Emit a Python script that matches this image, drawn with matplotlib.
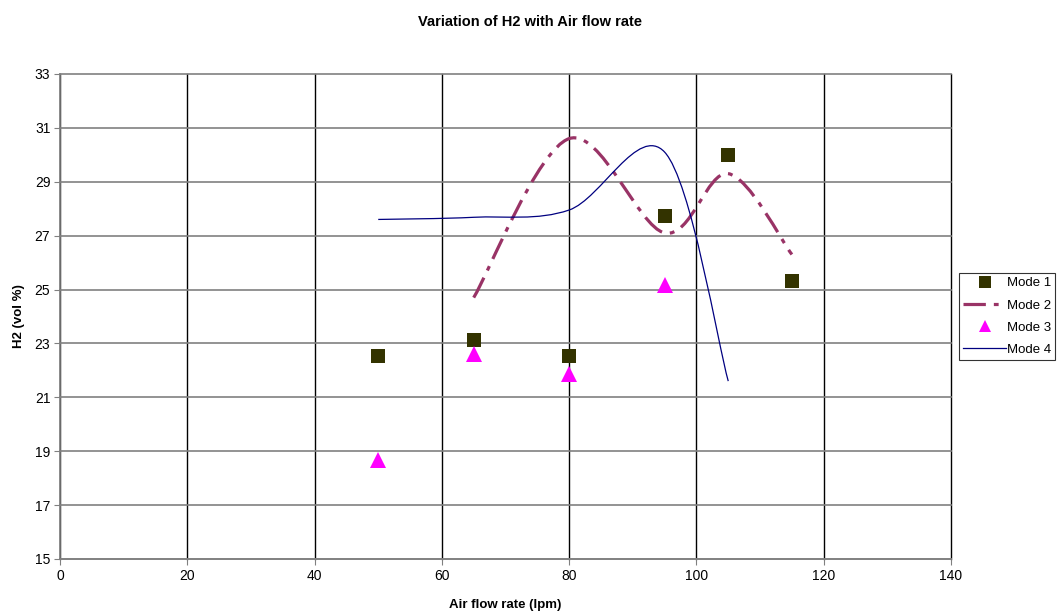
import numpy as np
import matplotlib
matplotlib.use("Agg")
import matplotlib.pyplot as plt
from matplotlib.path import Path
from matplotlib.patches import PathPatch
from matplotlib.lines import Line2D

plt.rcParams['font.family'] = ['Liberation Sans', 'DejaVu Sans']

# data
air1 = [50, 65, 80, 95, 105, 115]
h2_mode1 = [22.53, 23.13, 22.53, 27.73, 30.0, 25.32]

air2 = [65, 80, 95, 105, 115]
h2_mode2 = [24.7, 30.6, 27.1, 29.3, 26.3]

air3 = [50, 65, 80, 95]
h2_mode3 = [18.68, 22.62, 21.86, 25.16]

air4 = [50, 65, 80, 95, 105]
h2_mode4 = [27.6, 27.68, 27.95, 30.1, 21.6]

xticks = list(range(0, 141, 20))
yticks = list(range(15, 34, 2))


def smooth_path(xs, ys):
    # excel style smoothed line: cubic bezier through each point
    pts = np.column_stack([xs, ys]).astype(float)
    ext = np.vstack([pts[0], pts, pts[-1]])
    verts = [pts[0]]
    codes = [Path.MOVETO]
    for i in range(len(pts) - 1):
        p0, p1, p2, p3 = ext[i], ext[i + 1], ext[i + 2], ext[i + 3]
        verts += [p1 + (p2 - p0) / 6, p2 - (p3 - p1) / 6, p2]
        codes += [Path.CURVE4] * 3
    return Path(verts, codes)


fig = plt.figure(figsize=(10.59, 6.14), dpi=100)
ax = fig.add_axes([0.0567, 0.0896, 0.8413, 0.79])

ax.set_xlim(0, 140)
ax.set_ylim(15, 33)
ax.set_xticks(xticks)
ax.set_yticks(yticks)
ax.grid(axis='y', color='#808080', lw=1.2)
ax.grid(axis='x', color='black', lw=1.0)
ax.set_axisbelow(True)
for line in ax.get_xgridlines() + ax.get_ygridlines():
    line.set_clip_on(False)
for s in ['top', 'right']:
    ax.spines[s].set_visible(False)
for s in ['left', 'bottom']:
    ax.spines[s].set_color('#808080')
    ax.spines[s].set_linewidth(1.2)
ax.tick_params(colors='#808080', labelcolor='black', labelsize=10, length=4, pad=3)

m2_style = (0, (7, 2.5, 1.5, 2.5))
ax.add_patch(PathPatch(smooth_path(air2, h2_mode2), fill=False, edgecolor='#993366',
                       lw=2.3, linestyle=m2_style, zorder=3))
ax.add_patch(PathPatch(smooth_path(air4, h2_mode4), fill=False, edgecolor='#000080',
                       lw=0.9, zorder=3))
ax.plot(air1, h2_mode1, 's', color='#333300', ms=10.5, mew=0, zorder=4)
ax.plot(air3, h2_mode3, '^', color='#FF00FF', ms=11.5, mew=0, zorder=4)

ax.set_xlabel('Air flow rate (lpm)', fontsize=9.5, fontweight='bold', labelpad=12)
ax.set_ylabel('H2 (vol %)', fontsize=9.5, fontweight='bold', labelpad=7)
fig.text(0.5, 0.964, 'Variation of H2 with Air flow rate', ha='center', va='center',
         fontsize=10.5, fontweight='bold')

handles = [
    Line2D([], [], ls='none', marker='s', color='#333300', ms=9, mew=0),
    Line2D([], [], color='#993366', lw=2.3, ls=m2_style),
    Line2D([], [], ls='none', marker='^', color='#FF00FF', ms=8, mew=0),
    Line2D([], [], color='#000080', lw=0.9),
]
leg = fig.legend(handles, ['Mode 1', 'Mode 2', 'Mode 3', 'Mode 4'], loc='center left',
                 bbox_to_anchor=(0.906, 0.4845), fontsize=9.5, frameon=True, fancybox=False,
                 handlelength=3.2, borderpad=0.3, labelspacing=0.75, handletextpad=0.1,
                 borderaxespad=0)
leg.get_frame().set_edgecolor('black')
leg.get_frame().set_linewidth(0.8)

fig.savefig('out.png', dpi=100)
